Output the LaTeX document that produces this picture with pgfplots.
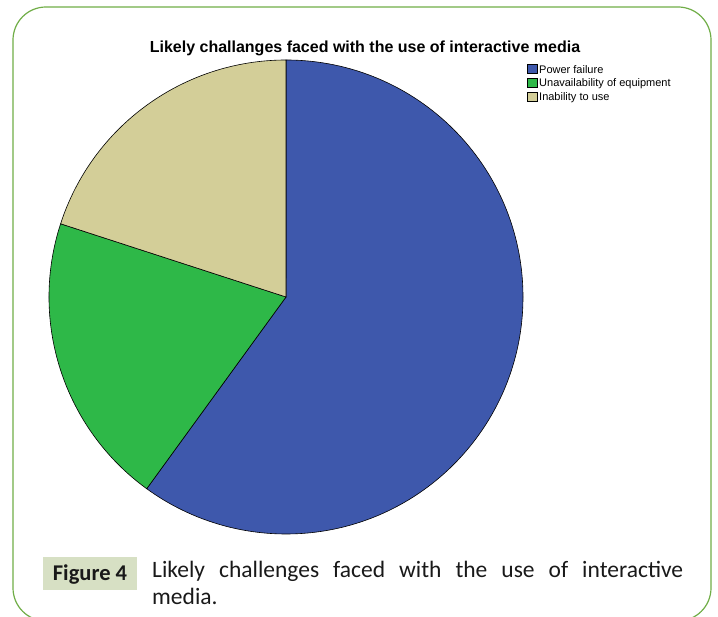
\documentclass[border=0pt]{standalone}
\usepackage{pgfplots}
\pgfplotsset{compat=1.18}
\usepackage{pgfplotstable}
\usepackage{fontspec}
\setmainfont{Liberation Sans}
\newfontfamily\carlito{Carlito}
\definecolor{pieblue}{RGB}{62,88,172}
\definecolor{piegreen}{RGB}{46,184,72}
\definecolor{pietan}{RGB}{211,206,152}
\definecolor{framegreen}{RGB}{112,173,71}
\definecolor{figbg}{RGB}{215,224,196}
\pgfplotstableread{
label value
Power 60
Unavail 20
Inability 20
}\piedata
\begin{document}
\begin{tikzpicture}[x=1pt,y=1pt]
\path[use as bounding box] (0,0) rectangle (718,617);
\begin{scope}
\clip (0,0) rectangle (718,617);
\draw[framegreen, line width=1.2pt, rounded corners=33pt] (13,610) rectangle (711,-4);
\end{scope}
% values -> angles
\pgfplotstablegetelem{0}{value}\of\piedata \let\va\pgfplotsretval
\pgfplotstablegetelem{1}{value}\of\piedata \let\vb\pgfplotsretval
\pgfplotstablegetelem{2}{value}\of\piedata \let\vc\pgfplotsretval
\pgfmathsetmacro{\tot}{\va+\vb+\vc}
\pgfmathsetmacro{\aA}{90}
\pgfmathsetmacro{\aB}{\aA-360*(\va/\tot)}
\pgfmathsetmacro{\aC}{\aB-360*(\vb/\tot)}
\pgfmathsetmacro{\aD}{\aC-360*(\vc/\tot)}
\node[font=\bfseries\fontsize{16}{18}\selectfont, inner sep=0] at (365,569) {Likely challanges faced with the use of interactive media};
\begin{axis}[at={(49pt,83pt)}, anchor=south west, scale only axis, width=474pt, height=474pt,
  xmin=-1, xmax=1, ymin=-1, ymax=1, hide axis, clip=false]
\fill[pieblue, draw=black, line width=0.6pt] (axis cs:0,0) -- (axis cs:{cos(\aA)},{sin(\aA)}) arc[start angle=\aA, end angle=\aB, radius=237pt] -- cycle;
\fill[piegreen, draw=black, line width=0.6pt] (axis cs:0,0) -- (axis cs:{cos(\aB)},{sin(\aB)}) arc[start angle=\aB, end angle=\aC, radius=237pt] -- cycle;
\fill[pietan, draw=black, line width=0.6pt] (axis cs:0,0) -- (axis cs:{cos(\aC)},{sin(\aC)}) arc[start angle=\aC, end angle=\aD, radius=237pt] -- cycle;
\end{axis}
% legend
\foreach \c/\t/\yy in {pieblue/Power failure/548, piegreen/Unavailability of equipment/534, pietan/Inability to use/520}{
  \filldraw[fill=\c, draw=black, line width=0.6pt] (527,\yy-4.5) rectangle (537,\yy+4.5);
  \node[anchor=west, inner sep=0, font=\fontsize{11}{13}\selectfont] at (539,\yy-0.5) {\t};
}
% caption
\fill[figbg] (43,60) rectangle (137,27);
\node[anchor=base, inner sep=0, font=\carlito\bfseries\fontsize{22.5}{26}\selectfont, text=black!90] at (90,36) {Figure 4};
\node[anchor=base west, inner sep=0, text width=531pt, align=justify, font=\carlito\fontsize{23.5}{27}\selectfont, text=black!90] at (152,39) {Likely challenges faced with the use of interactive\linebreak media.};
\end{tikzpicture}
\end{document}
